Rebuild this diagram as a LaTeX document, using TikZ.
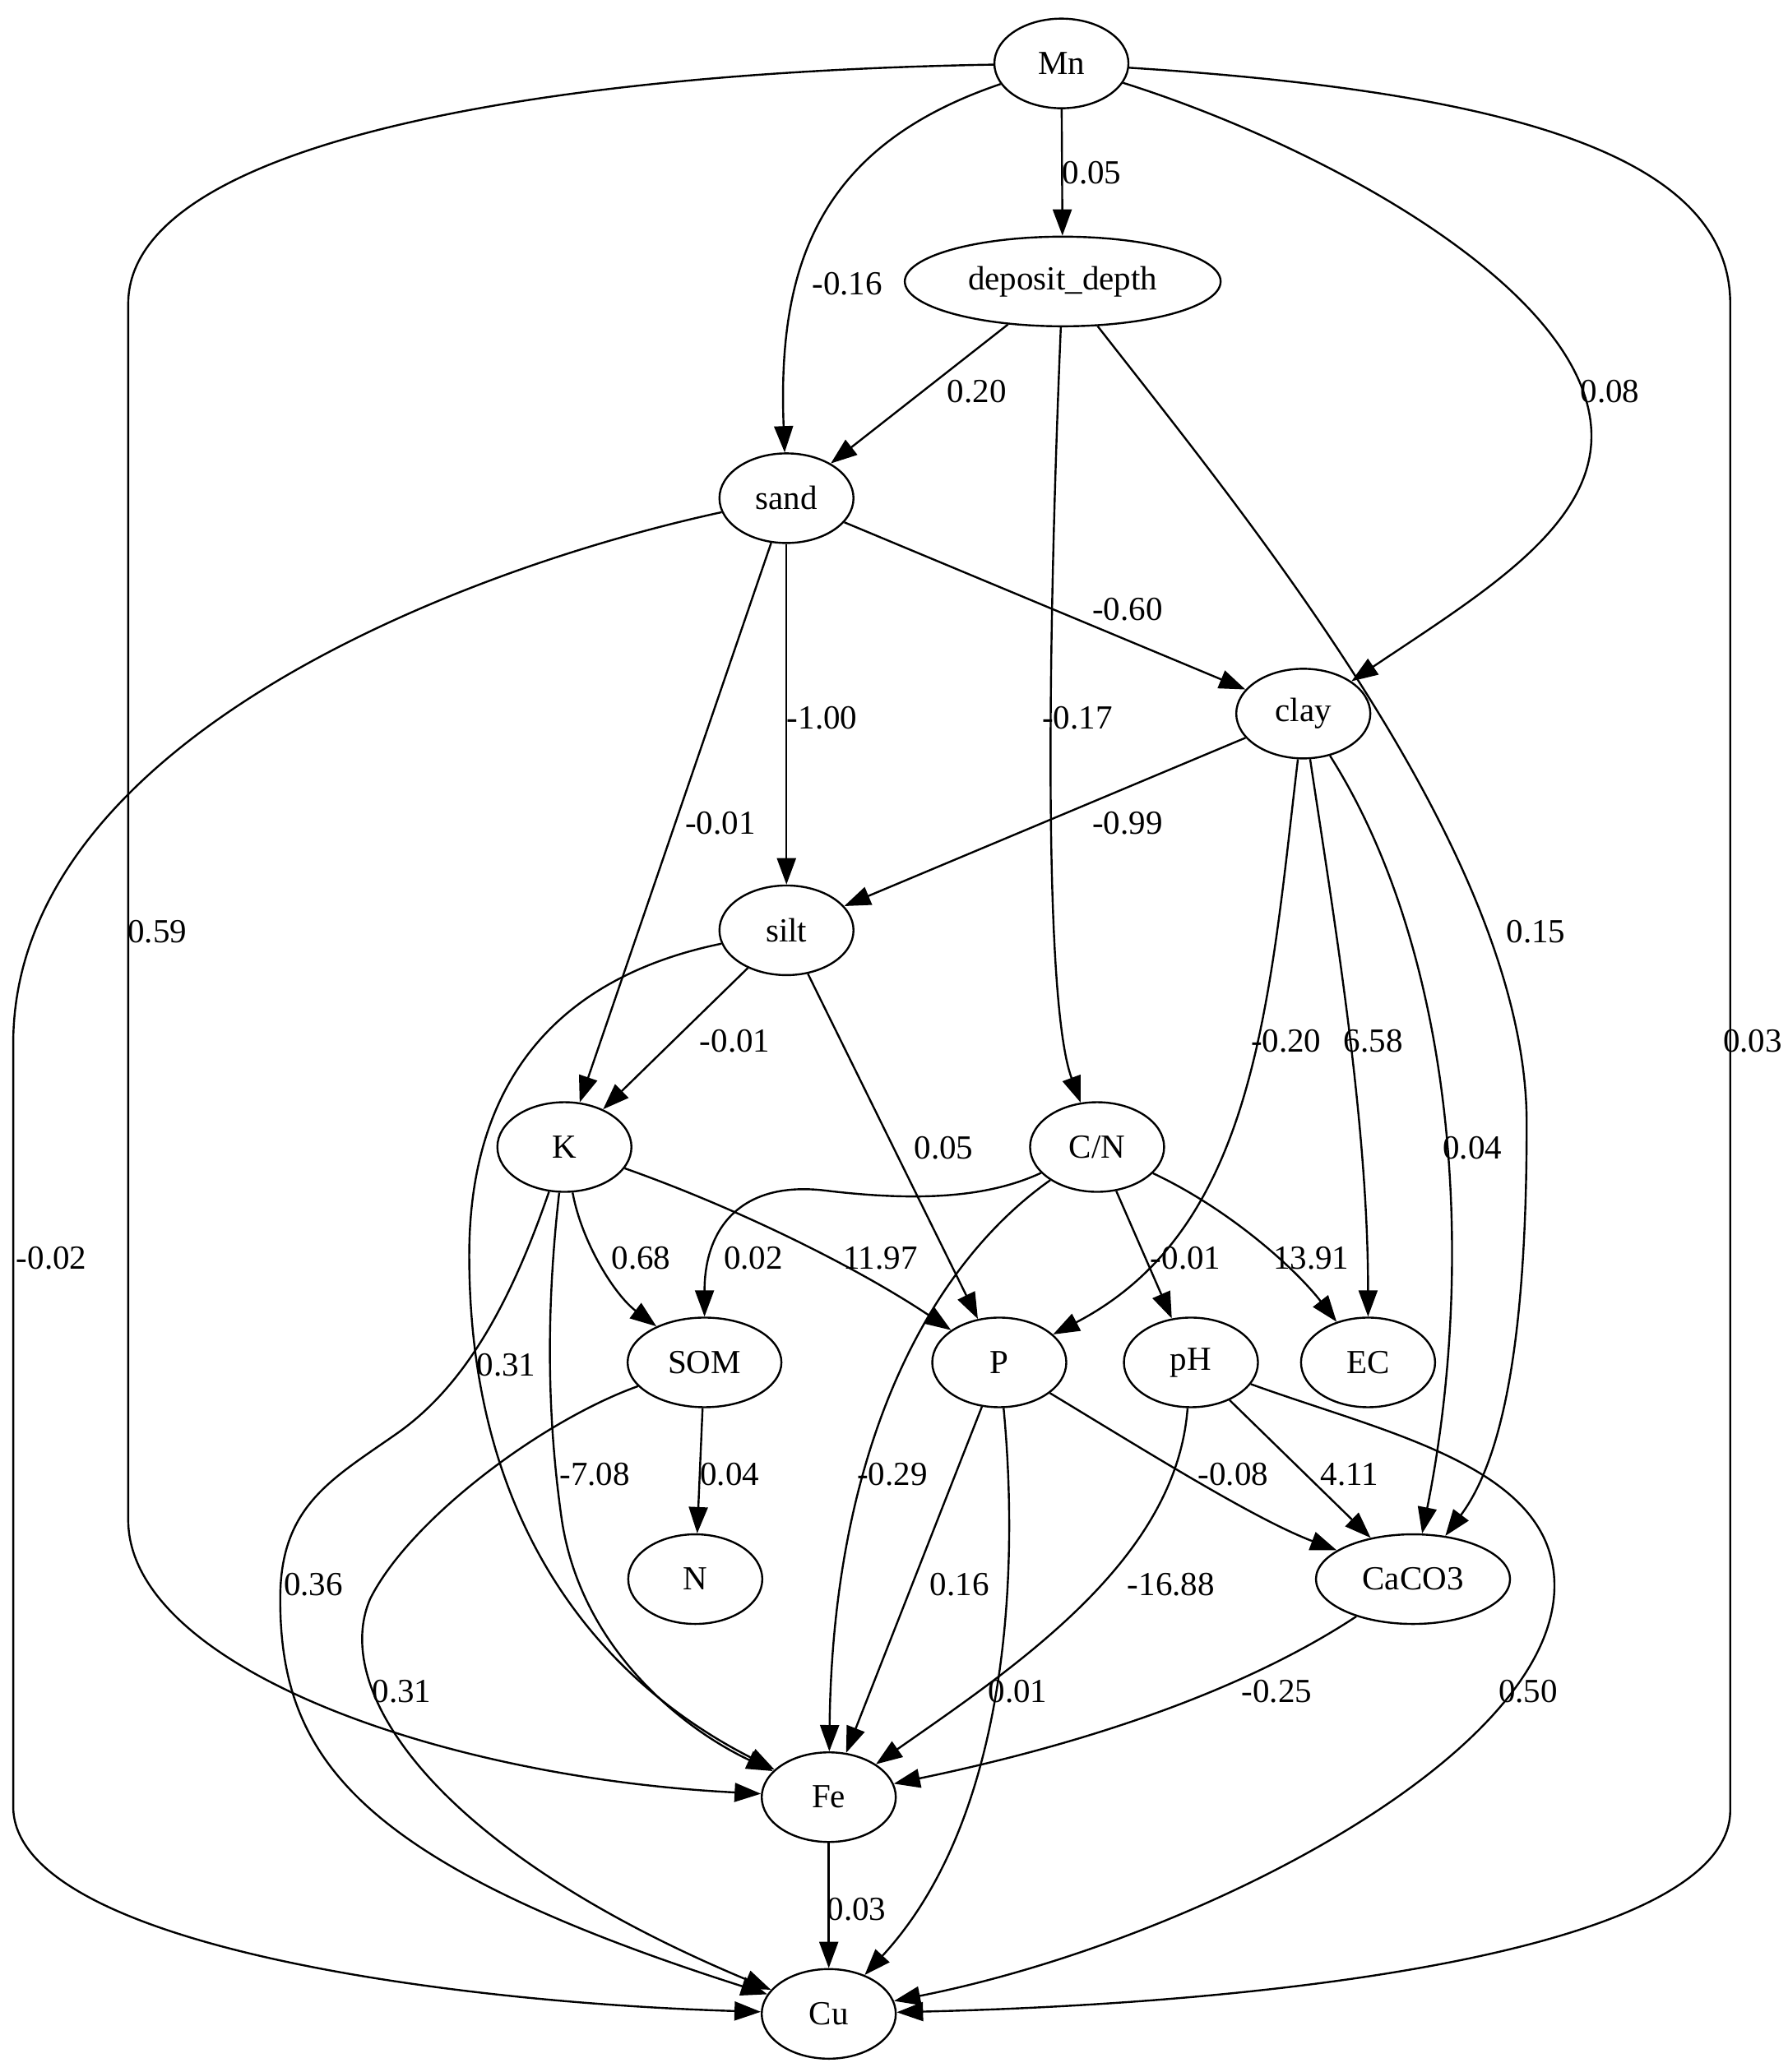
\documentclass[tikz,border=0pt]{standalone}
\usepackage{fontspec}
\setmainfont{Liberation Serif}
\usetikzlibrary{arrows.meta,shapes.geometric}
\newcommand{\gvf}{\fontsize{20.5pt}{24pt}\selectfont}
\begin{document}
\begin{tikzpicture}[x=0.80357pt,y=-0.80357pt,
  nd/.style={draw,ellipse,line width=1.2pt,minimum width=81.5pt,minimum height=54.5pt,inner sep=0pt,font=\gvf},
  lbl/.style={inner sep=0pt,font=\gvf},
  arr/.style={-{Triangle[length=16pt,width=11.5pt]},line width=1.2pt}]
\useasboundingbox (0,0) rectangle (1352.1,1568);
% nodes
\node[nd] (Mn) at (803,48) {Mn};
\node[nd,minimum width=192pt] (dd) at (804,213) {deposit\_depth};
\node[nd] (sand) at (595,377) {sand};
\node[nd] (clay) at (986,540) {clay};
\node[nd] (silt) at (595,704) {silt};
\node[nd] (K) at (427,868) {K};
\node[nd] (CN) at (830,868) {C/N};
\node[nd,minimum width=93.5pt] (SOM) at (533,1031) {SOM};
\node[nd] (P) at (756,1031) {P};
\node[nd] (pH) at (901,1031) {pH};
\node[nd] (EC) at (1035,1031) {EC};
\node[nd] (N) at (526,1195) {N};
\node[nd,minimum width=118pt] (CaCO3) at (1069,1195) {CaCO3};
\node[nd] (Fe) at (627,1360) {Fe};
\node[nd] (Cu) at (627,1524) {Cu};
% edges
\draw[arr] (Mn) -- (dd);
\draw[arr] (Mn) .. controls (620,110) and (588,200) .. (sand);
\draw[arr] (Mn) .. controls (1000,110) and (1204,220) .. (1204,330) .. controls (1204,400) and (1120,450) .. (clay);
\draw[arr] (Mn) .. controls (400,55) and (97,110) .. (97,230) -- (97,1150) .. controls (97,1260) and (330,1345) .. (Fe);
\draw[arr] (Mn) .. controls (1150,70) and (1309,120) .. (1309,230) -- (1309,1370) .. controls (1309,1470) and (1000,1515) .. (Cu);
\draw[arr] (dd) -- (sand);
\draw[arr] (dd) .. controls (792,500) and (790,760) .. (CN);
\draw[arr] (dd) .. controls (950,400) and (1155,650) .. (1155,850) .. controls (1155,1000) and (1140,1100) .. (CaCO3);
\draw[arr] (sand) -- (clay);
\draw[arr] (sand) -- (silt);
\draw[arr] (sand) -- (K);
\draw[arr] (sand) .. controls (350,430) and (10,560) .. (10,790) -- (10,1367) .. controls (10,1470) and (330,1515) .. (Cu);
\draw[arr] (clay) -- (silt);
\draw[arr] (clay) .. controls (960,760) and (950,930) .. (P);
\draw[arr] (clay) .. controls (1010,700) and (1035,850) .. (EC);
\draw[arr] (clay) .. controls (1100,720) and (1118,950) .. (CaCO3);
\draw[arr] (silt) -- (K);
\draw[arr] (silt) -- (P);
\draw[arr] (silt) .. controls (420,740) and (355,820) .. (355,950) .. controls (355,1150) and (450,1270) .. (Fe);
\draw[arr] (K) .. controls (440,940) and (465,980) .. (SOM);
\draw[arr] (K) .. controls (560,915) and (650,960) .. (P);
\draw[arr] (K) .. controls (412,1000) and (415,1080) .. (425,1150) .. controls (440,1250) and (520,1310) .. (Fe);
\draw[arr] (K) .. controls (385,990) and (350,1050) .. (300,1085) .. controls (250,1120) and (212,1140) .. (212,1210) .. controls (212,1330) and (270,1410) .. (Cu);
\draw[arr] (CN) .. controls (750,905) and (700,910) .. (625,901) .. controls (560,893) and (533,930) .. (SOM);
\draw[arr] (CN) -- (pH);
\draw[arr] (CN) .. controls (930,915) and (980,960) .. (EC);
\draw[arr] (CN) .. controls (700,960) and (630,1100) .. (Fe);
\draw[arr] (SOM) -- (N);
\draw[arr] (SOM) .. controls (410,1075) and (310,1150) .. (280,1210) .. controls (250,1280) and (330,1400) .. (Cu);
\draw[arr] (P) -- (Fe);
\draw[arr] (P) .. controls (772,1200) and (760,1380) .. (Cu);
\draw[arr] (P) .. controls (870,1100) and (950,1150) .. (CaCO3);
\draw[arr] (pH) .. controls (890,1180) and (770,1260) .. (Fe);
\draw[arr] (pH) -- (CaCO3);
\draw[arr] (pH) .. controls (1050,1085) and (1176,1110) .. (1176,1200) .. controls (1176,1330) and (900,1470) .. (Cu);
\draw[arr] (CaCO3) .. controls (940,1280) and (820,1320) .. (Fe);
\draw[arr] (Fe) -- (Cu);
% labels
\node[lbl] (l1) at (826,131) {0.05};
\node[lbl] (l2) at (641,215) {-0.16};
\node[lbl] (l3) at (1218,296) {0.08};
\node[lbl] (l4) at (119,705) {0.59};
\node[lbl] (l5) at (1326,788) {0.03};
\node[lbl] (l6) at (739,296) {0.20};
\node[lbl] (l7) at (815,543) {-0.17};
\node[lbl] (l8) at (1162,705) {0.15};
\node[lbl] (l9) at (853,461) {-0.60};
\node[lbl] (l10) at (622,543) {-1.00};
\node[lbl] (l11) at (545,623) {-0.01};
\node[lbl] (l12) at (39,952) {-0.02};
\node[lbl] (l13) at (853,623) {-0.99};
\node[lbl] (l14) at (973,788) {-0.20};
\node[lbl] (l15) at (1039,788) {6.58};
\node[lbl] (l16) at (1114,869) {0.04};
\node[lbl] (l17) at (556,788) {-0.01};
\node[lbl] (l18) at (714,869) {0.05};
\node[lbl] (l19) at (383,1033) {0.31};
\node[lbl] (l20) at (485,952) {0.68};
\node[lbl] (l21) at (666,952) {11.97};
\node[lbl] (l22) at (450,1116) {-7.08};
\node[lbl] (l23) at (237,1199) {0.36};
\node[lbl] (l24) at (570,952) {0.02};
\node[lbl] (l25) at (897,952) {-0.01};
\node[lbl] (l26) at (992,952) {13.91};
\node[lbl] (l27) at (675,1116) {-0.29};
\node[lbl] (l28) at (552,1116) {0.04};
\node[lbl] (l29) at (304,1280) {0.31};
\node[lbl] (l30) at (726,1199) {0.16};
\node[lbl] (l31) at (770,1280) {0.01};
\node[lbl] (l32) at (933,1116) {-0.08};
\node[lbl] (l33) at (886,1199) {-16.88};
\node[lbl] (l34) at (1021,1116) {4.11};
\node[lbl] (l35) at (1156,1280) {0.50};
\node[lbl] (l36) at (966,1280) {-0.25};
\node[lbl] (l37) at (648,1445) {0.03};
\end{tikzpicture}
\end{document}
